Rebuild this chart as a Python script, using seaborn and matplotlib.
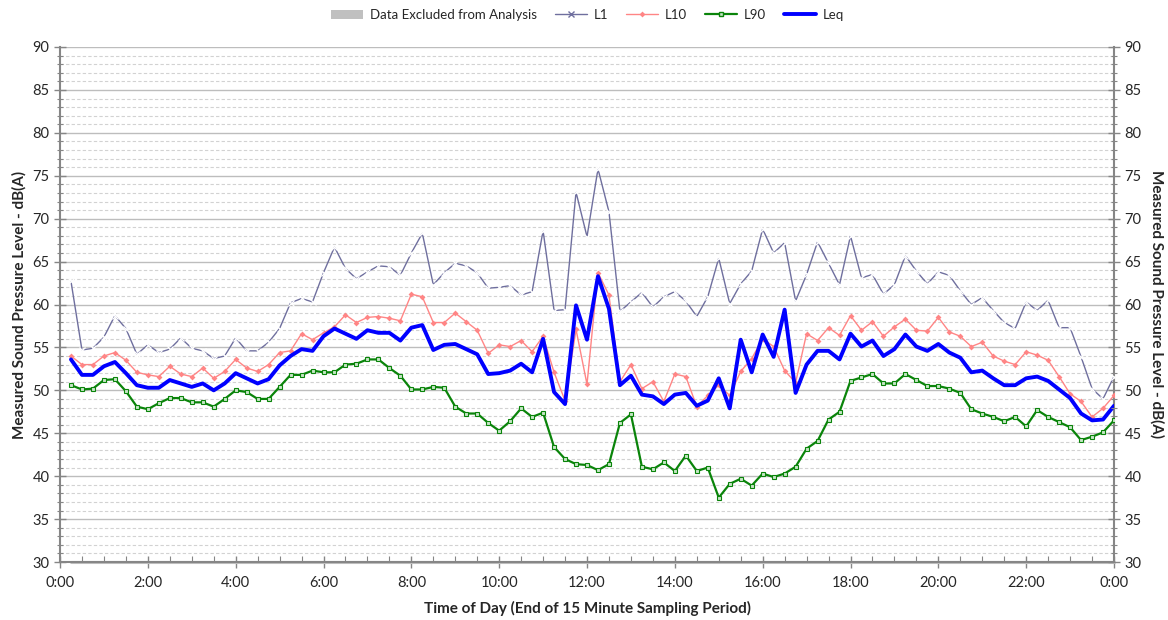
import numpy as np
import pandas as pd
import matplotlib
matplotlib.use("Agg")
import matplotlib.pyplot as plt
from matplotlib.lines import Line2D
from matplotlib.patches import Patch
from matplotlib.ticker import MultipleLocator, FixedLocator
import seaborn as sns

# 15-minute sampling periods, labelled by the end of each period (0:15 ... 24:00)
period_end_hours = np.arange(1, 97) * 0.25

L1 = [62.7, 54.7, 54.9, 56.2, 58.7, 57.2, 54.2, 55.3, 54.4, 54.8, 56.1, 54.9,
      54.6, 53.7, 54.0, 56.1, 54.6, 54.6, 55.6, 57.2, 60.2, 60.7, 60.3, 63.7,
      66.7, 64.2, 63.0, 63.8, 64.5, 64.4, 63.4, 66.0, 68.3, 62.3, 63.7, 64.8,
      64.5, 63.7, 61.9, 62.0, 62.2, 61.1, 61.5, 68.6, 59.3, 59.4, 73.1, 67.9,
      75.8, 70.8, 59.2, 60.3, 61.4, 59.7, 60.9, 61.5, 60.4, 58.6, 60.9, 65.4,
      60.1, 62.4, 63.9, 68.8, 66.0, 67.2, 60.4, 63.5, 67.3, 64.8, 62.3, 68.0,
      63.1, 63.5, 61.2, 62.3, 65.7, 63.9, 62.4, 63.8, 63.4, 61.6, 60.0, 60.8,
      59.3, 57.9, 57.2, 60.3, 59.3, 60.5, 57.3, 57.3, 53.9, 50.2, 49.0, 51.6]

L10 = [54.0, 53.0, 53.0, 54.0, 54.4, 53.5, 52.1, 51.8, 51.6, 52.8, 51.9, 51.6,
       52.6, 51.4, 52.2, 53.6, 52.6, 52.2, 53.0, 54.4, 54.6, 56.6, 55.9, 56.7,
       57.4, 58.8, 57.9, 58.5, 58.6, 58.4, 58.1, 61.2, 60.9, 57.9, 57.9, 59.0,
       58.0, 57.0, 54.3, 55.3, 55.1, 55.8, 54.5, 56.3, 52.1, 48.8, 57.1, 50.7,
       63.7, 61.1, 51.0, 53.0, 50.2, 51.0, 48.7, 51.9, 51.6, 48.1, 49.4, 50.6,
       49.4, 52.2, 53.7, 56.0, 55.1, 52.3, 50.9, 56.6, 55.8, 57.3, 56.4, 58.7,
       57.0, 58.0, 56.3, 57.4, 58.3, 57.0, 56.9, 58.5, 56.8, 56.3, 55.1, 55.6,
       54.0, 53.4, 53.0, 54.5, 54.1, 53.5, 51.6, 49.6, 48.7, 46.9, 47.9, 49.4]

L90 = [50.6, 50.1, 50.2, 51.2, 51.3, 49.9, 48.1, 47.8, 48.5, 49.1, 49.1, 48.6,
       48.6, 48.1, 49.0, 50.0, 49.8, 49.0, 49.0, 50.4, 51.8, 51.8, 52.3, 52.1,
       52.1, 53.0, 53.1, 53.6, 53.6, 52.6, 51.7, 50.1, 50.1, 50.4, 50.3, 48.1,
       47.3, 47.3, 46.2, 45.3, 46.4, 47.9, 46.9, 47.4, 43.4, 42.0, 41.4, 41.3,
       40.7, 41.4, 46.2, 47.2, 41.1, 40.8, 41.6, 40.6, 42.4, 40.6, 41.0, 37.5,
       39.1, 39.7, 38.9, 40.3, 39.9, 40.3, 41.1, 43.2, 44.1, 46.6, 47.5, 51.1,
       51.5, 51.9, 50.8, 50.8, 51.9, 51.2, 50.5, 50.5, 50.2, 49.7, 47.8, 47.3,
       46.9, 46.4, 46.9, 45.8, 47.7, 46.9, 46.3, 45.7, 44.2, 44.6, 45.1, 46.5]

Leq = [53.6, 51.8, 51.8, 52.8, 53.3, 52.0, 50.6, 50.3, 50.3, 51.2, 50.8, 50.4,
       50.8, 50.0, 50.8, 52.0, 51.4, 50.8, 51.3, 52.9, 54.0, 54.8, 54.6, 56.3,
       57.2, 56.6, 56.0, 57.0, 56.7, 56.7, 55.8, 57.3, 57.6, 54.7, 55.3, 55.4,
       54.8, 54.2, 51.9, 52.0, 52.3, 53.1, 52.1, 56.0, 49.8, 48.4, 59.9, 55.9,
       63.3, 59.5, 50.6, 51.7, 49.5, 49.3, 48.4, 49.5, 49.7, 48.2, 48.8, 51.4,
       47.9, 55.9, 52.1, 56.5, 53.9, 59.4, 49.7, 53.0, 54.6, 54.6, 53.6, 56.6,
       55.1, 55.8, 54.0, 54.8, 56.5, 55.1, 54.6, 55.4, 54.4, 53.8, 52.1, 52.3,
       51.4, 50.6, 50.6, 51.4, 51.6, 51.1, 50.1, 49.1, 47.3, 46.5, 46.6, 48.2]

# 1 = period excluded from analysis (none in this record)
excluded_flag = [0] * 96

x_tick_hours = list(range(0, 25, 2))
x_tick_labels = ["0:00", "2:00", "4:00", "6:00", "8:00", "10:00", "12:00",
                 "14:00", "16:00", "18:00", "20:00", "22:00", "0:00"]

Y_MIN, Y_MAX = 30, 90

df = pd.DataFrame({"hour": period_end_hours, "L1": L1, "L10": L10,
                   "L90": L90, "Leq": Leq, "excluded": excluded_flag})

sns.set_theme(style="white")
plt.rcParams["font.family"] = ["Lato", "DejaVu Sans"]

fig = plt.figure(figsize=(11.68, 6.2), dpi=100)
ax = fig.add_axes([60 / 1168, 1 - 562 / 620, (1114 - 60) / 1168, (562 - 47) / 620])

# horizontal grid: solid at every 5 dB, dashed at every 1 dB
ax.set_axisbelow(True)
ax.yaxis.set_major_locator(MultipleLocator(5))
ax.yaxis.set_minor_locator(MultipleLocator(1))
ax.grid(which="major", axis="y", color="#bdbdbd", linewidth=1.0, linestyle="-")
ax.grid(which="minor", axis="y", color="#d2d2d2", linewidth=0.8, linestyle=(0, (3, 2)))
ax.grid(which="major", axis="x", visible=False)

GREY = "#c0c0c0"
# excluded periods shaded as an area from the axis floor
excl_top = np.where(df["excluded"].to_numpy() > 0, Y_MAX, Y_MIN)
ax.fill_between(df["hour"], Y_MIN, excl_top, color=GREY, linewidth=0)
ax.plot(df["hour"], excl_top, color=GREY, linewidth=2.2, zorder=2.5, clip_on=False)

sns.lineplot(data=df, x="hour", y="L1", ax=ax, color="#6f6f9e", linewidth=1.0,
             marker="x", markersize=5, markeredgewidth=0.9, zorder=3)
sns.lineplot(data=df, x="hour", y="L10", ax=ax, color="#ff8585", linewidth=1.0,
             marker="D", markersize=3, markeredgewidth=0, zorder=4)
sns.lineplot(data=df, x="hour", y="L90", ax=ax, color="#0a840a", linewidth=1.6,
             marker="s", markersize=3.3, markerfacecolor="#c8e6c8",
             markeredgecolor="#0a840a", markeredgewidth=0.8, zorder=5)
sns.lineplot(data=df, x="hour", y="Leq", ax=ax, color="#0000ff", linewidth=2.8,
             zorder=6)

ax.set_xlim(0, 24)
ax.set_ylim(Y_MIN, Y_MAX)
ax.xaxis.set_major_locator(FixedLocator(x_tick_hours))
ax.set_xticklabels(x_tick_labels)
ax.xaxis.set_minor_locator(MultipleLocator(0.5))

AXIS_GREY = "#868686"
for side in ("left", "right", "bottom"):
    ax.spines[side].set_visible(True)
    ax.spines[side].set_color(AXIS_GREY)
    ax.spines[side].set_linewidth(1.5)
ax.spines["top"].set_visible(False)

ax.tick_params(axis="x", which="major", direction="inout", length=8, width=1,
               color=AXIS_GREY, labelsize=10.5, pad=6, bottom=True)
ax.tick_params(axis="x", which="minor", direction="in", length=4, width=0.8,
               color=AXIS_GREY, bottom=True)
ax.tick_params(axis="y", which="major", direction="inout", length=8, width=1,
               color=AXIS_GREY, labelsize=10.5, left=True)
ax.tick_params(axis="y", which="minor", direction="inout", length=4, width=0.8,
               color=AXIS_GREY, left=True)

ax.set_xlabel("Time of Day (End of 15 Minute Sampling Period)", fontsize=11,
              fontweight="bold", labelpad=8)
ax.set_ylabel("Measured Sound Pressure Level - dB(A)", fontsize=11,
              fontweight="bold", labelpad=4)

# mirrored dB scale on the right
ax2 = ax.twinx()
ax2.set_ylim(Y_MIN, Y_MAX)
ax2.yaxis.set_major_locator(MultipleLocator(5))
ax2.yaxis.set_minor_locator(MultipleLocator(1))
ax2.grid(False)
for side in ax2.spines:
    ax2.spines[side].set_visible(False)
ax2.tick_params(axis="y", which="major", direction="inout", length=8, width=1,
                color=AXIS_GREY, labelsize=10.5, right=True)
ax2.tick_params(axis="y", which="minor", direction="inout", length=4, width=0.8,
                color=AXIS_GREY, right=True)
ax2.set_ylabel("Measured Sound Pressure Level - dB(A)", fontsize=11,
               fontweight="bold", rotation=-90, labelpad=16)

handles = [
    Patch(facecolor=GREY, edgecolor="none"),
    Line2D([], [], color="#6f6f9e", lw=1.0, marker="x", markersize=5),
    Line2D([], [], color="#ff8585", lw=1.0, marker="D", markersize=3,
           markeredgewidth=0),
    Line2D([], [], color="#0a840a", lw=1.6, marker="s", markersize=3.3,
           markerfacecolor="#c8e6c8"),
    Line2D([], [], color="#0000ff", lw=2.8),
]
labels = ["Data Excluded from Analysis", "L1", "L10", "L90", "Leq"]
fig.legend(handles, labels, loc="upper center", bbox_to_anchor=(0.503, 1.005),
           ncol=5, frameon=False, fontsize=9.5, handlelength=2.4,
           columnspacing=1.4, handletextpad=0.5)

fig.savefig("out.png", dpi=100)
